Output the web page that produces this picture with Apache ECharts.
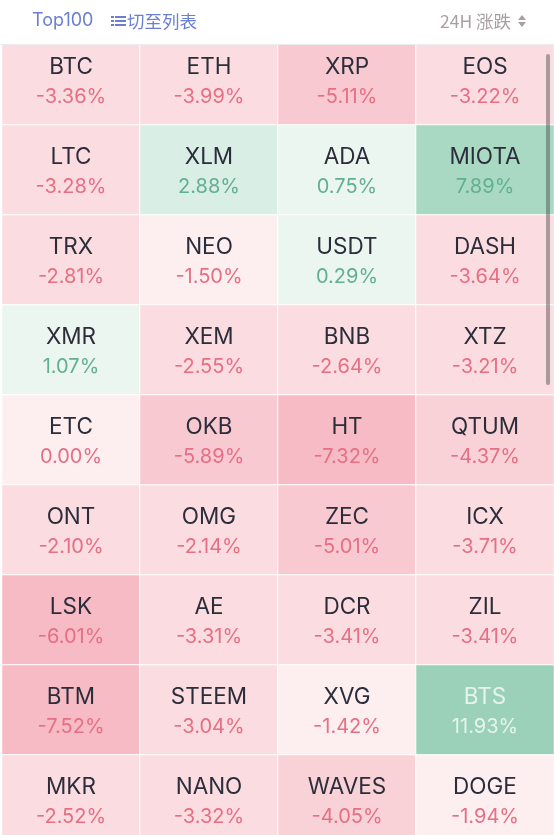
<!DOCTYPE html>
<html>
<head>
<meta charset="utf-8">
<style>
  html, body { margin: 0; padding: 0; background: #fff; overflow: hidden; }
  #chart { width: 554px; height: 835px; }
</style>
<script src="https://cdn.jsdelivr.net/npm/echarts@6/dist/echarts.min.js"></script>
</head>
<body>
<div id="chart"></div>
<script>
const symbols = [
  'BTC', 'ETH', 'XRP', 'EOS',
  'LTC', 'XLM', 'ADA', 'MIOTA',
  'TRX', 'NEO', 'USDT', 'DASH',
  'XMR', 'XEM', 'BNB', 'XTZ',
  'ETC', 'OKB', 'HT', 'QTUM',
  'ONT', 'OMG', 'ZEC', 'ICX',
  'LSK', 'AE', 'DCR', 'ZIL',
  'BTM', 'STEEM', 'XVG', 'BTS',
  'MKR', 'NANO', 'WAVES', 'DOGE'
]
const changes = [
  -3.36, -3.99, -5.11, -3.22,
  -3.28, 2.88, 0.75, 7.89,
  -2.81, -1.50, 0.29, -3.64,
  1.07, -2.55, -2.64, -3.21,
  0.00, -5.89, -7.32, -4.37,
  -2.10, -2.14, -5.01, -3.71,
  -6.01, -3.31, -3.41, -3.41,
  -7.52, -3.04, -1.42, 11.93,
  -2.52, -3.32, -4.05, -1.94
]
const columns = ['0', '1', '2', '3']
const rows = ['0', '1', '2', '3', '4', '5', '6', '7', '8']

const headerLeft = 'Top100'
const headerSwitch = '切至列表'
const headerSort = '24H 涨跌'

const fontFamily = 'Inter, "Noto Sans CJK SC", sans-serif'
const blue = '#6b7fd0'
const grey = '#a89fa4'

const cells = changes.map((value, i) => [i % 4, Math.floor(i / 4), value, symbols[i]])

const chart = echarts.init(document.getElementById('chart'), null, { renderer: 'canvas' })

const option = {
  animation: false,
  backgroundColor: '#fff',
  // 最后一行超出画布，不让 grid 被压缩
  grid: { left: 2, top: 35, width: 552, height: 810, outerBoundsMode: 'none' },
  xAxis: { type: 'category', data: columns, show: false },
  yAxis: { type: 'category', data: rows, inverse: true, show: false },
  visualMap: {
    show: false,
    dimension: 2,
    type: 'piecewise',
    pieces: [
      { min: 10, color: '#9bd1b8' },
      { min: 5, max: 10, color: '#a9d9c2' },
      { min: 2, max: 5, color: '#d9eee4' },
      { gt: 0, max: 2, color: '#ebf6f1' },
      { min: -2, max: 0, color: '#fdeef0' },
      { min: -4, lt: -2, color: '#fbdce0' },
      { min: -5, lt: -4, color: '#f9d2d8' },
      { min: -6, lt: -5, color: '#f8c9d1' },
      { lt: -6, color: '#f6bbc5' }
    ]
  },
  series: [{
    type: 'heatmap',
    data: cells,
    itemStyle: { borderColor: '#fff', borderWidth: 1 },
    emphasis: { disabled: true },
    label: {
      show: true,
      offset: [0, 2],
      formatter(p) {
        const value = p.value[2]
        const text = value.toFixed(2) + '%'
        const name = p.value[3]
        if (value >= 10) return `{nameLight|${name}}\n{light|${text}}`
        if (value > 0) return `{name|${name}}\n{up|${text}}`
        return `{name|${name}}\n{down|${text}}`
      },
      rich: {
        name: { fontFamily, fontSize: 22.5, color: '#2b2d3a', lineHeight: 30 },
        nameLight: { fontFamily, fontSize: 22.5, color: '#e6f4ed', lineHeight: 30 },
        up: { fontFamily, fontSize: 20, color: '#63b08f', lineHeight: 30 },
        down: { fontFamily, fontSize: 20, color: '#e66f83', lineHeight: 30 },
        light: { fontFamily, fontSize: 20, color: '#e6f4ed', lineHeight: 30 }
      }
    }
  }],
  graphic: [
    // header covers the top of the first row
    { type: 'rect', z: 50, shape: { x: 0, y: 0, width: 554, height: 44 }, style: { fill: '#fff' } },
    { type: 'rect', z: 50, shape: { x: 0, y: 44, width: 554, height: 1 }, style: { fill: '#ececee' } },
    { type: 'text', z: 51, x: 32, y: 21, style: { text: headerLeft, font: '18px ' + fontFamily, fill: blue, verticalAlign: 'middle' } },
    { type: 'rect', z: 51, shape: { x: 111, y: 16, width: 3, height: 2 }, style: { fill: blue } },
    { type: 'rect', z: 51, shape: { x: 111, y: 20, width: 3, height: 2 }, style: { fill: blue } },
    { type: 'rect', z: 51, shape: { x: 111, y: 24, width: 3, height: 2 }, style: { fill: blue } },
    { type: 'rect', z: 51, shape: { x: 115, y: 16, width: 11, height: 2 }, style: { fill: blue } },
    { type: 'rect', z: 51, shape: { x: 115, y: 20, width: 11, height: 2 }, style: { fill: blue } },
    { type: 'rect', z: 51, shape: { x: 115, y: 24, width: 11, height: 2 }, style: { fill: blue } },
    { type: 'text', z: 51, x: 127, y: 21, style: { text: headerSwitch, font: '17.5px "Noto Sans CJK SC"', fill: blue, verticalAlign: 'middle' } },
    { type: 'text', z: 51, x: 440, y: 21, style: { text: headerSort, font: '17.5px "Noto Sans CJK SC", ' + fontFamily, fill: grey, verticalAlign: 'middle' } },
    { type: 'polygon', z: 51, shape: { points: [[518, 20], [526, 20], [522, 15]] }, style: { fill: grey } },
    { type: 'polygon', z: 51, shape: { points: [[518, 22], [526, 22], [522, 27]] }, style: { fill: grey } },
    // scrollbar
    { type: 'rect', z: 52, shape: { x: 546, y: 54, width: 4, height: 331, r: 2 }, style: { fill: 'rgba(70,70,70,0.45)' } }
  ]
}

chart.setOption(option)
</script>
</body>
</html>
